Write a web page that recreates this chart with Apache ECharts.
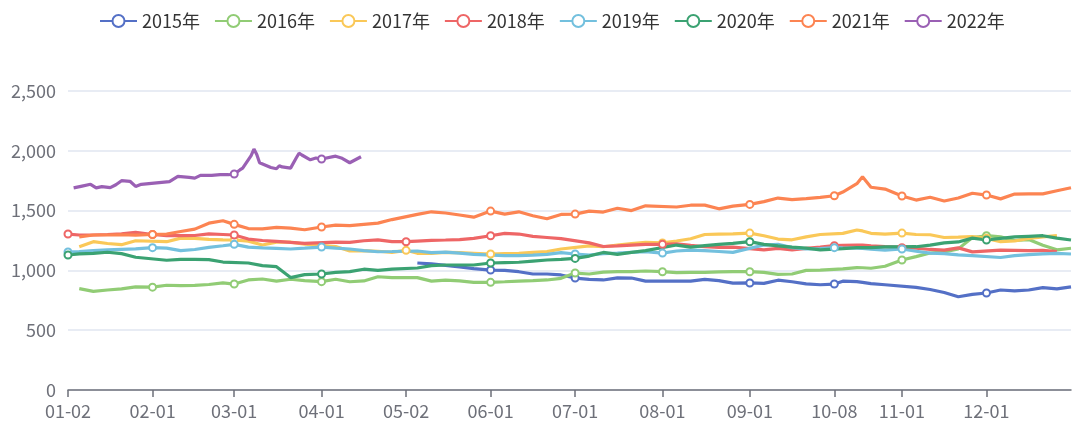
<!DOCTYPE html>
<html><head><meta charset="utf-8">
<script src="https://cdn.jsdelivr.net/npm/echarts/dist/echarts.min.js"></script>
<style>html,body{margin:0;padding:0;background:#fff}#c{width:1080px;height:426px}</style>
</head><body><div id="c"></div>
<script>
// ---- categories: calendar days (MM-DD) on which some year traded ----
const monthLengths = [31,29,31,30,31,30,31,31,30,31,30,31];
const closedDays = ['01-01','05-01','10-01','10-02','10-03','10-04','10-05','10-06','10-07'];
const pad = n => (n < 10 ? '0' : '') + n;
const categories = [];
for (let m = 1; m <= 12; m++) {
  for (let d = 1; d <= monthLengths[m - 1]; d++) {
    const s = pad(m) + '-' + pad(d);
    if (!closedDays.includes(s)) categories.push(s);
  }
}

// ---- sampled dates shared by 2015-2021 ----
const sampleDates = [
 '01-02','01-06','01-11','01-16','01-21','01-26',
 '02-01','02-06','02-11','02-16','02-21','02-26',
 '03-01','03-06','03-11','03-16','03-21','03-26',
 '04-01','04-06','04-11','04-16','04-21','04-26',
 '05-02','05-06','05-11','05-16','05-21','05-26',
 '06-01','06-06','06-11','06-16','06-21','06-26',
 '07-01','07-06','07-11','07-16','07-21','07-26',
 '08-01','08-06','08-11','08-16','08-21','08-26',
 '09-01','09-06','09-11','09-16','09-21','09-26',
 '10-08','10-11','10-16','10-18','10-21','10-26',
 '11-01','11-06','11-11','11-16','11-21','11-26',
 '12-01','12-06','12-11','12-16','12-21','12-26','12-31'];

const v2015 = [
 null,null,null,null,null,null,
 null,null,null,null,null,null,
 null,null,null,null,null,null,
 null,null,null,null,null,null,
 null,1062,1055,1042,1030,1015,
 1003,1000,989,970,970,962,
 936,925,920,938,936,910,
 null,911,910,925,915,893,
 895,892,918,905,888,880,
 886,910,906,900,890,880,
 null,858,840,815,780,800,
 811,836,828,836,856,845,862];
const v2016 = [
 null,848,825,836,845,862,
 860,876,872,874,882,895,
 886,920,928,910,926,915,
 906,926,905,912,947,940,
 null,940,910,918,912,900,
 900,905,911,915,920,934,
 978,970,985,989,990,995,
 989,981,984,984,988,990,
 989,984,967,970,1000,1003,
 null,1012,1023,1022,1018,1035,
 1087,1115,1145,1155,1180,1275,
 1290,1280,1250,1258,1210,1172,1185];
const v2017 = [
 null,1198,1240,1225,1215,1248,
 null,1240,1270,1268,1260,1255,
 1254,1245,1212,1236,1236,1220,
 null,1200,1162,1165,1160,1151,
 1168,1143,1143,1150,1148,1143,
 1137,1140,1143,1150,1157,1179,
 null,1205,1198,1212,1225,1234,
 1230,1246,1265,1300,1304,1306,
 1312,1290,1262,1256,1280,1300,
 null,1310,1338,1330,1310,1304,
 1312,1300,1298,1275,1278,1282,
 1268,1240,1246,1268,1280,1290,null];
const v2018 = [
 1304,1296,1296,1300,1305,1318,
 1300,1290,1290,1292,1305,1300,
 1296,1262,1250,1243,1234,1226,
 null,1236,1234,1248,1255,1240,
 1240,1245,1251,1254,1258,1268,
 1290,1310,1304,1285,1275,1265,
 null,1230,1200,1205,1212,1218,
 1218,1223,1210,1198,1192,1195,
 null,1172,1184,1172,1184,1195,
 1207,1210,1212,1212,1205,1198,
 1190,1185,1175,1170,1188,1155,
 null,1170,1168,1165,1168,1158,null];
const v2019 = [
 1154,1158,1165,1172,1176,1180,
 1190,1186,1165,1175,1192,1206,
 1218,1195,1188,1184,1179,1186,
 1195,1186,1179,1165,1156,1158,
 null,1162,1148,1152,1145,1134,
 null,1123,1123,1128,1134,1148,
 1137,1129,1140,1145,1151,1157,
 1145,1162,1170,1165,1158,1151,
 null,1212,1218,1190,1180,1182,
 1190,1188,1185,1184,1178,1170,
 1179,1160,1145,1140,1130,1124,
 null,1108,1123,1132,1138,1143,1137];
const v2020 = [
 1129,1138,1143,1152,1140,1110,
 null,1085,1092,1093,1090,1070,
 null,1062,1040,1031,940,965,
 970,984,990,1010,1000,1010,
 null,1020,1040,1045,1045,1045,
 1062,1065,1068,1078,1087,1092,
 1100,1120,1150,1134,1150,1165,
 null,1212,1195,1207,1218,1226,
 1240,1218,1205,1195,1186,1172,
 null,1182,1190,1190,1190,1196,
 null,1198,1212,1230,1238,1270,
 1254,1268,1280,1285,1290,1270,1254];
const v2021 = [
 null,1280,1296,1296,1298,1295,
 1300,1304,1325,1345,1395,1415,
 1385,1350,1347,1360,1354,1340,
 1363,1379,1374,1385,1395,1425,
 null,1468,1490,1480,1463,1445,
 1496,1471,1490,1457,1432,1468,
 1471,1496,1488,1520,1500,1540,
 null,1530,1545,1546,1515,1538,
 1552,1575,1605,1592,1600,1610,
 1624,1655,1725,1783,1695,1680,
 1622,1588,1612,1580,1605,1645,
 1630,1598,1638,1640,1640,1666,1691];

// ---- 2022 (partial year, own dates) ----
const dates2022 = ['01-04','01-07','01-10','01-12','01-14','01-17','01-19','01-21','01-24','01-26','01-28',
 '02-07','02-10','02-14','02-16','02-18','02-22','02-25','02-28',
 '03-01','03-03','03-04','03-07','03-08','03-09','03-10','03-14','03-16','03-17','03-18','03-21','03-23','03-24','03-25','03-28','03-30',
 '04-01','04-06','04-08','04-11','04-13','04-15'];
const v2022 = [1690,1705,1720,1690,1700,1692,1716,1750,1745,1702,1720,
 1742,1786,1778,1772,1795,1795,1800,1800,
 1806,1840,1855,1960,2015,1970,1900,1860,1850,1875,1865,1855,1940,1980,1965,1925,1940,
 1931,1955,1940,1900,1925,1950];

const seriesNames = ['2015年','2016年','2017年','2018年','2019年','2020年','2021年','2022年'];
const seriesColors = ['#5470c6','#91cc75','#fac858','#ee6666','#73c0de','#3ba272','#fc8452','#9a60b4'];
const yTicks = {min: 0, max: 2500, interval: 500};

const pairs = (dates, vals) => dates.map((d, i) => [d, vals[i]]).filter(p => p[1] !== null);
const seriesData = [
  pairs(sampleDates, v2015), pairs(sampleDates, v2016), pairs(sampleDates, v2017),
  pairs(sampleDates, v2018), pairs(sampleDates, v2019), pairs(sampleDates, v2020),
  pairs(sampleDates, v2021), pairs(dates2022, v2022)];

const monthStart = (i) => i === 0 || categories[i].slice(0, 2) !== categories[i - 1].slice(0, 2);
const FONT = '"Noto Sans CJK SC","Noto Sans",sans-serif';

const chart = echarts.init(document.getElementById('c'), null, {renderer: 'canvas'});
chart.setOption({
  animation: false,
  color: seriesColors,
  textStyle: {fontFamily: FONT},
  legend: {
    top: 7, left: 94, itemWidth: 37, itemHeight: 15, itemGap: 14,
    itemStyle: {borderWidth: 2.5},
    textStyle: {fontSize: 18, color: '#333', fontFamily: FONT},
    data: seriesNames
  },
  grid: {left: 68, right: 9, top: 91, bottom: 36, containLabel: false, outerBoundsMode: 'none'},
  xAxis: {
    type: 'category', data: categories, boundaryGap: false,
    axisLine: {lineStyle: {color: '#6E7079', width: 1.5}},
    axisTick: {interval: monthStart, length: 7, lineStyle: {color: '#6E7079', width: 1.5}},
    axisLabel: {interval: monthStart, fontSize: 18, color: '#6E7079', margin: 12, fontFamily: FONT},
    splitLine: {show: false}
  },
  yAxis: {
    type: 'value', min: yTicks.min, max: yTicks.max, interval: yTicks.interval,
    axisLine: {show: false}, axisTick: {show: false},
    axisLabel: {fontSize: 18, color: '#6E7079', margin: 12, fontFamily: FONT,
      formatter: v => v.toLocaleString('en-US')},
    splitLine: {lineStyle: {color: '#E0E6F1', width: 1.5}}
  },
  series: seriesNames.map((name, i) => ({
    name, type: 'line', data: seriesData[i],
    symbol: 'emptyCircle', symbolSize: 7, showAllSymbol: 'auto',
    lineStyle: {width: 3.2, color: seriesColors[i]},
    itemStyle: {color: seriesColors[i], borderWidth: 2.5},
    emphasis: {disabled: true}
  }))
});
</script></body></html>
